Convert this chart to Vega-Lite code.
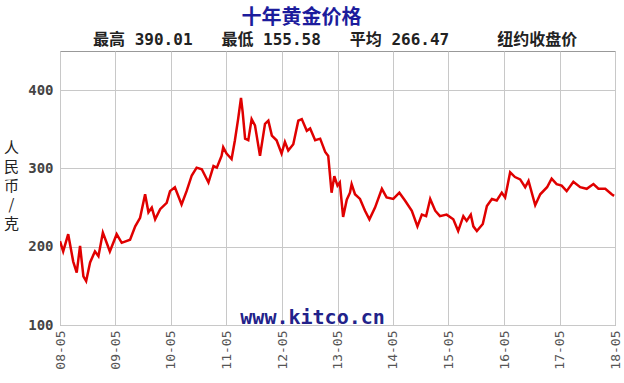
{
  "$schema": "https://vega.github.io/schema/vega-lite/v6.json",
  "width": 555,
  "height": 274,
  "autosize": "none",
  "padding": {"left": 60, "top": 51, "right": 9, "bottom": 58},
  "background": "white",
  "title": {
    "text": "十年黄金价格",
    "subtitle": "\u200b\u00a0\u00a0\u00a0\u00a0\u00a0\u00a0\u00a0最高 390.01\u00a0\u00a0\u00a0最低 155.58\u00a0\u00a0\u00a0平均 266.47\u00a0\u00a0\u00a0\u00a0\u00a0纽约收盘价",
    "anchor": "middle",
    "frame": "group",
    "dx": -36,
    "font": "Noto Sans CJK SC",
    "fontSize": 20,
    "fontWeight": "bold",
    "color": "#1c1c9c",
    "subtitleFont": "DejaVu Sans Mono, Noto Sans CJK SC",
    "subtitleFontSize": 16,
    "subtitleFontWeight": "bold",
    "subtitleColor": "#222222",
    "subtitlePadding": 4,
    "offset": 3
  },
  "config": {
    "view": {"stroke": "#999999", "strokeWidth": 1}
  },
  "layer": [
    {
      "data": {
        "values": [
          {"date": "2008-05-01", "value": 207},
          {"date": "2008-05-22", "value": 194},
          {"date": "2008-06-24", "value": 216},
          {"date": "2008-07-27", "value": 181},
          {"date": "2008-08-19", "value": 167},
          {"date": "2008-09-10", "value": 201},
          {"date": "2008-10-02", "value": 162},
          {"date": "2008-10-20", "value": 156},
          {"date": "2008-11-15", "value": 180},
          {"date": "2008-12-17", "value": 194},
          {"date": "2009-01-09", "value": 188},
          {"date": "2009-02-07", "value": 218},
          {"date": "2009-03-04", "value": 205},
          {"date": "2009-03-25", "value": 194},
          {"date": "2009-05-09", "value": 216},
          {"date": "2009-06-11", "value": 205},
          {"date": "2009-08-05", "value": 209},
          {"date": "2009-09-08", "value": 226},
          {"date": "2009-10-10", "value": 237},
          {"date": "2009-11-12", "value": 267},
          {"date": "2009-12-04", "value": 244},
          {"date": "2009-12-26", "value": 250},
          {"date": "2010-01-17", "value": 235},
          {"date": "2010-02-19", "value": 248},
          {"date": "2010-04-03", "value": 256},
          {"date": "2010-04-25", "value": 271},
          {"date": "2010-05-27", "value": 276},
          {"date": "2010-07-10", "value": 254},
          {"date": "2010-08-12", "value": 271},
          {"date": "2010-09-15", "value": 291},
          {"date": "2010-10-17", "value": 301},
          {"date": "2010-11-20", "value": 299},
          {"date": "2011-01-03", "value": 282},
          {"date": "2011-02-05", "value": 303},
          {"date": "2011-02-27", "value": 301},
          {"date": "2011-03-30", "value": 316},
          {"date": "2011-04-10", "value": 327},
          {"date": "2011-05-02", "value": 319},
          {"date": "2011-06-04", "value": 312},
          {"date": "2011-06-26", "value": 336},
          {"date": "2011-07-17", "value": 363},
          {"date": "2011-08-05", "value": 390},
          {"date": "2011-08-16", "value": 372},
          {"date": "2011-09-01", "value": 338},
          {"date": "2011-09-22", "value": 336},
          {"date": "2011-10-14", "value": 363},
          {"date": "2011-11-05", "value": 355},
          {"date": "2011-12-08", "value": 316},
          {"date": "2012-01-10", "value": 357},
          {"date": "2012-02-01", "value": 361},
          {"date": "2012-02-24", "value": 342},
          {"date": "2012-03-26", "value": 336},
          {"date": "2012-04-28", "value": 319},
          {"date": "2012-05-20", "value": 334},
          {"date": "2012-06-11", "value": 323},
          {"date": "2012-07-14", "value": 331},
          {"date": "2012-08-16", "value": 361},
          {"date": "2012-09-08", "value": 363},
          {"date": "2012-10-11", "value": 348},
          {"date": "2012-11-02", "value": 351},
          {"date": "2012-12-05", "value": 336},
          {"date": "2013-01-07", "value": 338},
          {"date": "2013-02-09", "value": 321},
          {"date": "2013-03-01", "value": 316},
          {"date": "2013-03-23", "value": 269},
          {"date": "2013-04-10", "value": 290},
          {"date": "2013-05-01", "value": 278},
          {"date": "2013-05-16", "value": 282},
          {"date": "2013-06-07", "value": 238},
          {"date": "2013-07-01", "value": 260},
          {"date": "2013-07-22", "value": 269},
          {"date": "2013-08-02", "value": 280},
          {"date": "2013-08-24", "value": 267},
          {"date": "2013-09-26", "value": 261},
          {"date": "2013-10-29", "value": 246},
          {"date": "2013-11-27", "value": 235},
          {"date": "2014-01-03", "value": 250},
          {"date": "2014-02-17", "value": 274},
          {"date": "2014-03-20", "value": 263},
          {"date": "2014-05-03", "value": 261},
          {"date": "2014-06-12", "value": 269},
          {"date": "2014-07-19", "value": 259},
          {"date": "2014-09-02", "value": 246},
          {"date": "2014-10-09", "value": 226},
          {"date": "2014-11-07", "value": 241},
          {"date": "2014-12-05", "value": 239},
          {"date": "2015-01-01", "value": 261},
          {"date": "2015-02-03", "value": 246},
          {"date": "2015-03-06", "value": 239},
          {"date": "2015-04-19", "value": 241},
          {"date": "2015-06-02", "value": 235},
          {"date": "2015-07-04", "value": 220},
          {"date": "2015-08-07", "value": 239},
          {"date": "2015-08-29", "value": 233},
          {"date": "2015-09-25", "value": 241},
          {"date": "2015-10-12", "value": 226},
          {"date": "2015-11-04", "value": 220},
          {"date": "2015-12-13", "value": 229},
          {"date": "2016-01-09", "value": 252},
          {"date": "2016-02-11", "value": 261},
          {"date": "2016-03-14", "value": 259},
          {"date": "2016-04-16", "value": 269},
          {"date": "2016-05-08", "value": 263},
          {"date": "2016-06-10", "value": 295},
          {"date": "2016-07-12", "value": 289},
          {"date": "2016-08-15", "value": 286},
          {"date": "2016-09-17", "value": 276},
          {"date": "2016-10-09", "value": 284},
          {"date": "2016-11-22", "value": 253},
          {"date": "2016-12-25", "value": 267},
          {"date": "2017-02-08", "value": 276},
          {"date": "2017-03-10", "value": 287},
          {"date": "2017-04-12", "value": 280},
          {"date": "2017-05-15", "value": 278},
          {"date": "2017-06-17", "value": 271},
          {"date": "2017-07-31", "value": 283},
          {"date": "2017-09-14", "value": 276},
          {"date": "2017-10-27", "value": 274},
          {"date": "2017-12-10", "value": 280},
          {"date": "2018-01-12", "value": 274},
          {"date": "2018-02-26", "value": 274},
          {"date": "2018-04-09", "value": 267},
          {"date": "2018-04-25", "value": 265}
        ]
      },
      "mark": {"type": "line", "color": "#e00000", "strokeWidth": 2.5, "clip": true},
      "encoding": {
        "x": {
          "field": "date",
          "type": "temporal",
          "scale": {
            "type": "utc",
            "domain": [
              {"year": 2008, "month": 5, "date": 1, "utc": true},
              {"year": 2018, "month": 5, "date": 1, "utc": true}
            ],
            "nice": false
          },
          "axis": {
            "title": null,
            "values": [
              {"year": 2008, "month": 5, "date": 1, "utc": true},
              {"year": 2009, "month": 5, "date": 1, "utc": true},
              {"year": 2010, "month": 5, "date": 1, "utc": true},
              {"year": 2011, "month": 5, "date": 1, "utc": true},
              {"year": 2012, "month": 5, "date": 1, "utc": true},
              {"year": 2013, "month": 5, "date": 1, "utc": true},
              {"year": 2014, "month": 5, "date": 1, "utc": true},
              {"year": 2015, "month": 5, "date": 1, "utc": true},
              {"year": 2016, "month": 5, "date": 1, "utc": true},
              {"year": 2017, "month": 5, "date": 1, "utc": true},
              {"year": 2018, "month": 5, "date": 1, "utc": true}
            ],
            "labelExpr": "utcFormat(datum.value, '%y-%m')",
            "labelAngle": -90,
            "labelFlush": false,
            "labelOverlap": false,
            "labelFont": "DejaVu Sans Mono",
            "labelFontSize": 13,
            "labelColor": "#555555",
            "labelPadding": 5,
            "ticks": false,
            "domain": false,
            "grid": true,
            "gridColor": "#c8c8c8",
            "gridWidth": 1
          }
        },
        "y": {
          "field": "value",
          "type": "quantitative",
          "scale": {"domain": [100, 450], "nice": false, "zero": false},
          "axis": {
            "values": [100, 150, 200, 250, 300, 350, 400, 450],
            "labelExpr": "datum.value % 100 === 0 && datum.value < 450 ? datum.label : ''",
            "ticks": false,
            "domain": false,
            "labelPadding": 7,
            "labelFont": "DejaVu Sans Mono",
            "labelFontWeight": "bold",
            "labelFontSize": 14,
            "labelColor": "#444444",
            "gridColor": "#c8c8c8",
            "gridWidth": 1,
            "title": ["人", "民", "币", "/", "克"],
            "titleAngle": 0,
            "titleFont": "Noto Sans CJK SC",
            "titleFontSize": 15,
            "titleFontWeight": "normal",
            "titleColor": "#222222",
            "titleLineHeight": 19,
            "titleX": -49,
            "titleY": 96,
            "titleAlign": "center",
            "titleBaseline": "middle"
          }
        }
      }
    },
    {
      "data": {"values": [{"date": "2012-11-18", "value": 109, "label": "www.kitco.cn"}]},
      "mark": {
        "type": "text",
        "font": "DejaVu Sans Mono",
        "fontSize": 20,
        "fontWeight": "bold",
        "color": "#22228a",
        "align": "center",
        "baseline": "middle"
      },
      "encoding": {
        "x": {"field": "date", "type": "temporal", "scale": {"type": "utc"}},
        "y": {"field": "value", "type": "quantitative"},
        "text": {"field": "label"}
      }
    }
  ]
}
